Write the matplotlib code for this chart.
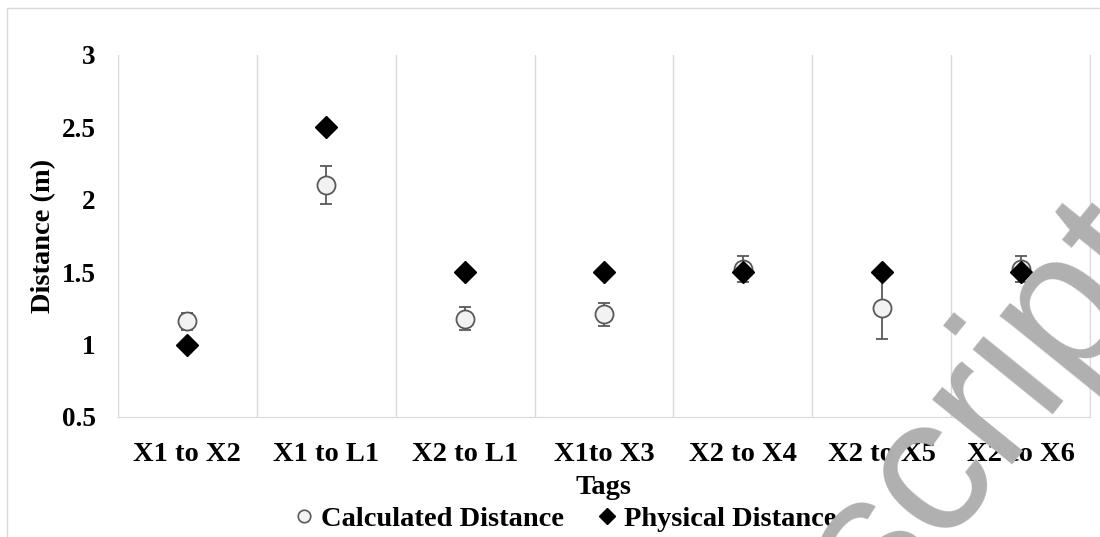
import numpy as np
import matplotlib.pyplot as plt
from matplotlib.patches import Rectangle
from matplotlib.lines import Line2D

# data
tags = ['X1 to X2', 'X1 to L1', 'X2 to L1', 'X1to X3', 'X2 to X4', 'X2 to X5', 'X2 to X6']
calculated = [1.16, 2.10, 1.18, 1.21, 1.52, 1.25, 1.52]
calc_err = [0.06, 0.13, 0.08, 0.08, 0.09, 0.21, 0.09]
physical = [1.0, 2.5, 1.5, 1.5, 1.5, 1.5, 1.5]
y_ticks = [0.5, 1, 1.5, 2, 2.5, 3]

plt.rcParams['font.family'] = ['Liberation Serif', 'DejaVu Serif']
plt.rcParams['font.weight'] = 'bold'

fig = plt.figure(figsize=(11, 5.37), dpi=100)
ax = fig.add_axes([118 / 1100, 1 - 417 / 537, 972 / 1100, 362 / 537])

x = np.arange(len(tags))
ax.errorbar(x, calculated, yerr=calc_err, fmt='o', ms=13, mfc='#f2f2f2', mec='#595959',
            mew=1.3, ecolor='#595959', elinewidth=1.3, capsize=4, capthick=1.3, zorder=3)
ax.plot(x, physical, 'D', ms=11, color='black', zorder=4)

ax.set_xlim(-0.5, len(tags) - 0.5)
ax.set_ylim(0.5, 3)
ax.set_yticks(y_ticks)
ax.set_yticklabels(['0.5', '1', '1.5', '2', '2.5', '3'])
ax.set_xticks(x)
ax.set_xticklabels(tags)
ax.set_xticks(np.arange(len(tags) + 1) - 0.5, minor=True)
ax.grid(True, axis='x', which='minor', color='#d9d9d9', lw=1)
ax.tick_params(which='both', length=0)
ax.tick_params(axis='y', labelsize=19.5, pad=16)
ax.tick_params(axis='x', labelsize=20.5, pad=18)
ax.spines['top'].set_visible(False)
for s in ['left', 'right', 'bottom']:
    ax.spines[s].set_color('#d9d9d9')

ax.set_xlabel('Tags', fontsize=20.5, fontweight='bold', labelpad=6)
ax.set_ylabel('Distance (m)', fontsize=20.5, fontweight='bold', labelpad=4)

handles = [Line2D([], [], ls='none', marker='o', ms=9, mfc='#f2f2f2', mec='#595959', mew=1.2),
           Line2D([], [], ls='none', marker='D', ms=8, color='black')]
fig.legend(handles, ['Calculated Distance', 'Physical Distance'], loc='center',
           bbox_to_anchor=(566 / 1100, 1 - 519 / 537), ncol=2, frameon=False,
           fontsize=20.5, handlelength=0.6, handletextpad=0.3, columnspacing=1.2,
           borderaxespad=0, borderpad=0)

# outer chart frame
fig.patches.append(Rectangle((7 / 1100, -0.05), 1.1, 1 - 8 / 537 + 0.05, transform=fig.transFigure,
                             fill=False, ec='#d9d9d9', lw=1))

# watermark
fig.text(987 / 1100, 1 - 408 / 537, 'script', fontsize=140, family='Liberation Sans',
         fontweight='normal', color='#b0b0b0', rotation=51, rotation_mode='anchor',
         ha='center', va='center', zorder=10)

fig.savefig('out.png', dpi=100)
